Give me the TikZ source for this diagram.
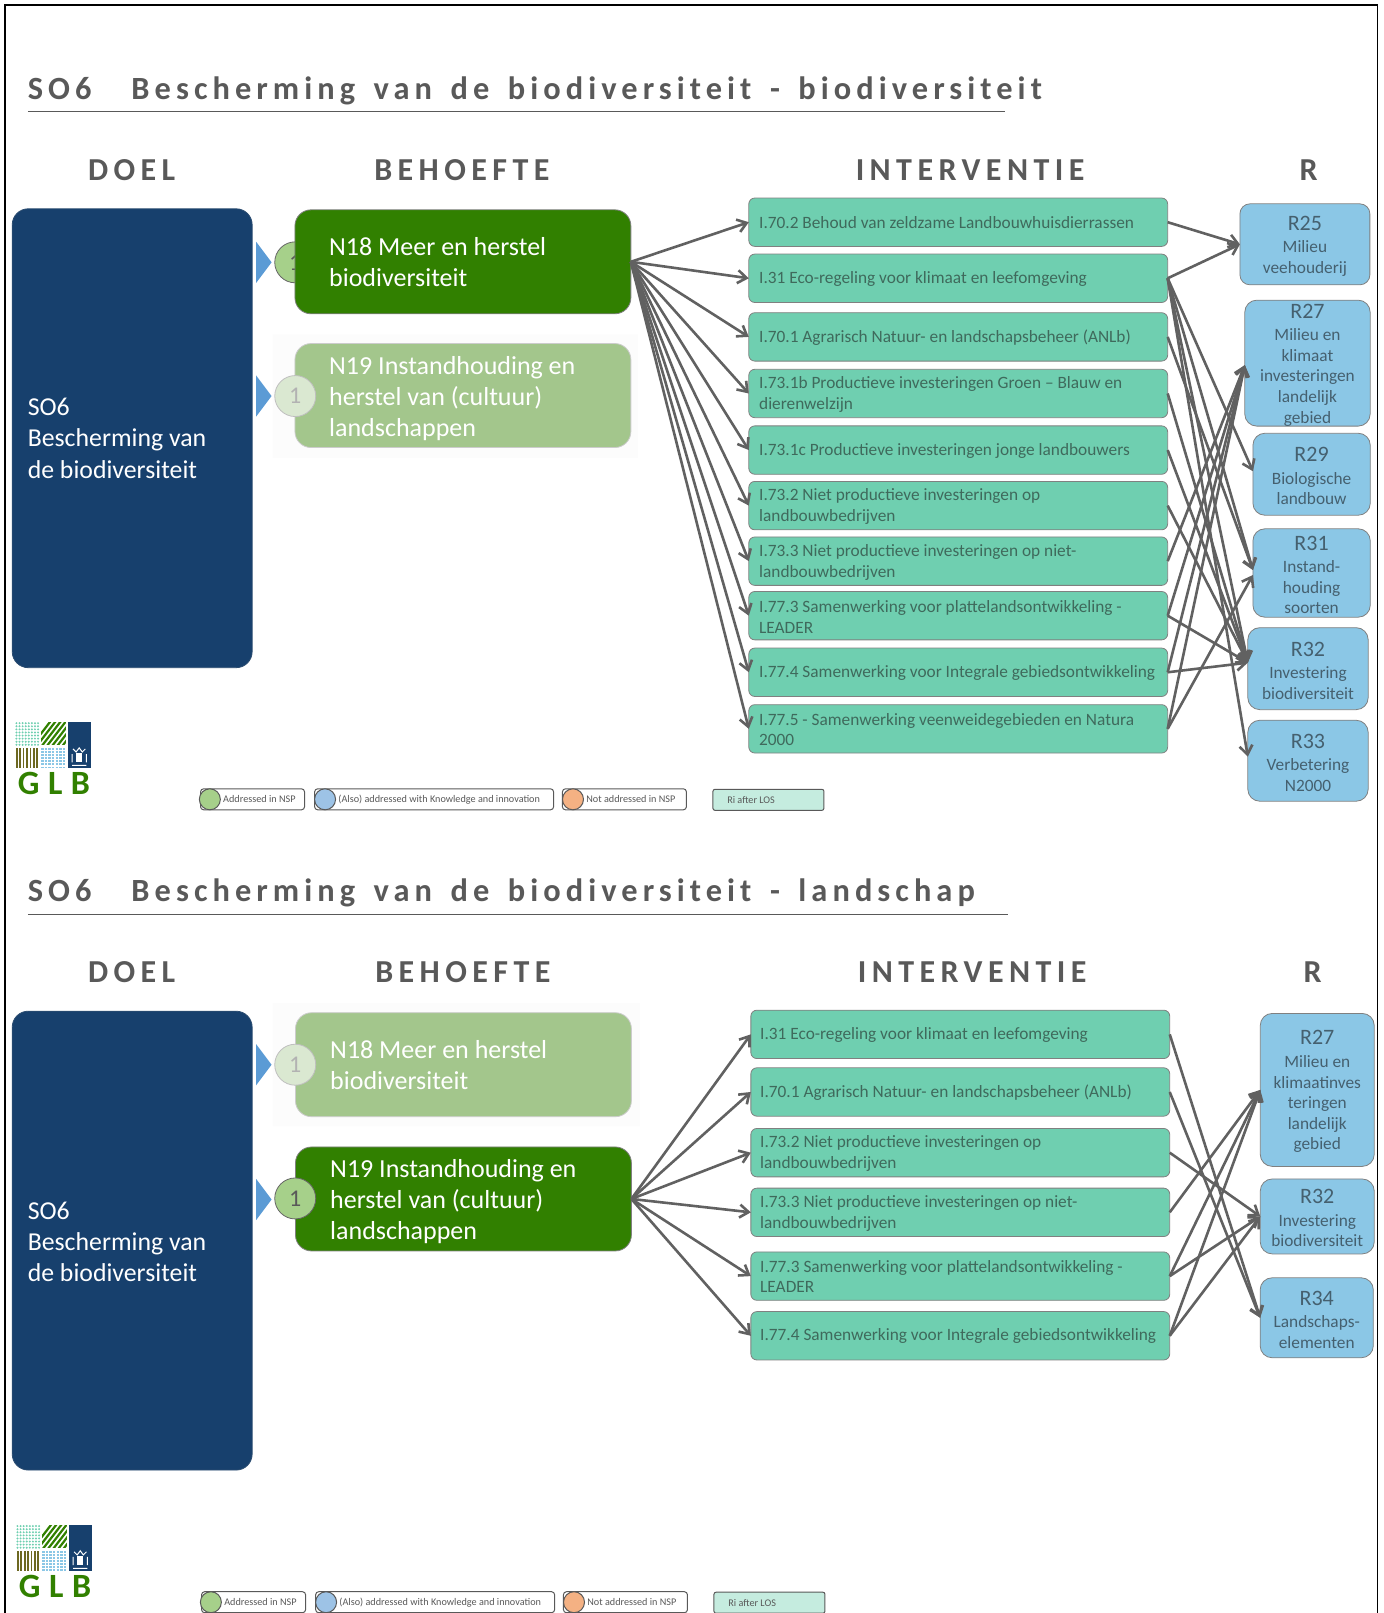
\documentclass[tikz,border=0pt]{standalone}
\usepackage{fontspec}
\setmainfont{Carlito}
\newfontfamily\titlefont[LetterSpace=15.6,WordSpace=1.5]{Carlito}
\newfontfamily\headfont[LetterSpace=17]{Carlito}
\newfontfamily\logofont[LetterSpace=25]{Carlito}
\usetikzlibrary{arrows.meta}
\definecolor{textgrey}{HTML}{595959}
\definecolor{doelblue}{HTML}{17406D}
\definecolor{needgreen}{HTML}{318000}
\definecolor{fadegreen}{HTML}{A3C68C}
\definecolor{intteal}{HTML}{6FCFB0}
\definecolor{inttext}{HTML}{3F6A5C}
\definecolor{resblue}{HTML}{8BC7E6}
\definecolor{restext}{HTML}{45606F}
\definecolor{tipblue}{HTML}{5B9BD5}
\definecolor{dotgreen}{HTML}{A6D08A}
\definecolor{dotblue}{HTML}{9DC3E6}
\definecolor{dotorange}{HTML}{F4B183}
\newcommand\rhead[1]{{\fontsize{11}{12}\selectfont\rule{0pt}{9pt}#1}\\[1pt]}
\begin{document}
\begin{tikzpicture}[
    x = 0.5145pt, y = -0.5145pt,
    every node/.style = {inner sep = 0pt, outer sep = 0pt},
    titletext/.style = {anchor = west, font = \titlefont\bfseries\fontsize{16.2}{18}\selectfont, text = textgrey},
    headtext/.style = {font = \headfont\bfseries\fontsize{16}{18}\selectfont, text = textgrey},
    doelbox/.style = {draw = doelblue!80!gray, fill = doelblue, rounded corners = 8pt, minimum width = 120pt, minimum height = 229.5pt},
    doeltext/.style = {anchor = west, align = left, text = white, font = \fontsize{12.9}{15.6}\selectfont},
    needbox/.style = {draw = gray, fill = needgreen, rounded corners = 8pt, minimum width = 168pt, minimum height = 52pt},
    fadebox/.style = {draw = gray!40, fill = fadegreen, rounded corners = 8pt, minimum width = 168pt, minimum height = 52pt},
    needtext/.style = {anchor = west, align = left, text = white, font = \fontsize{13}{15.5}\selectfont},
    intbox/.style = {draw = gray, fill = intteal, rounded corners = 3pt, minimum width = 209.5pt, minimum height = 24.2pt},
    inttextn/.style = {anchor = west, align = left, text = inttext, font = \fontsize{8.65}{10.3}\selectfont},
    resbox/.style = {draw = gray, fill = resblue, rounded corners = 6pt, align = center, text = restext, font = \fontsize{8.65}{10.3}\selectfont},
    numdark/.style = {circle, draw = gray!80!black, fill = dotgreen, minimum size = 20.5pt, text = textgrey, font = \fontsize{12}{14}\selectfont},
    numfade/.style = {circle, draw = gray!50, fill = fadegreen!40, minimum size = 20.5pt, text = gray!60, font = \fontsize{12}{14}\selectfont},
    pill/.style = {draw = textgrey, fill = white, rounded corners = 1.5pt, minimum height = 10.5pt, line width = 0.5pt},
    pilldot/.style = {circle, draw = textgrey, minimum size = 10.5pt, line width = 0.5pt},
    pilltext/.style = {anchor = west, text = textgrey, font = \fontsize{5.1}{6}\selectfont},
    conn/.style = {draw = textgrey!95!white, line width = 1.3pt, -{Straight Barb[length = 4.5pt, width = 6.5pt]}}]

\useasboundingbox (0,0) rectangle (1345,1568);
\draw[line width = 0.7pt] (5,1568) -- (5,5) -- (1339,5) -- (1339,1568);

\path (27,88) node[titletext](titletop) {SO6\hspace{20pt}Bescherming van de biodiversiteit - biodiversiteit}
	  (27,868) node[titletext](titlebot) {SO6\hspace{20pt}Bescherming van de biodiversiteit - landschap};
\draw[textgrey, line width = 0.6pt] (27,108) -- (977,108)
	  (27,889) -- (980,889);

\path (128,165) node[headtext](doeltop) {DOEL}
	  (449,165) node[headtext](behtop) {BEHOEFTE}
	  (943,165) node[headtext](inttop) {INTERVENTIE}
	  (1272,165) node[headtext](rtop) {R}
	  (128,945) node[headtext](doelbot) {DOEL}
	  (450,945) node[headtext](behbot) {BEHOEFTE}
	  (945,945) node[headtext](intbot) {INTERVENTIE}
	  (1276,945) node[headtext](rbot) {R};

\path (128.5,426) node[doelbox](doeltopbox) {}
	  (128.5,1206) node[doelbox](doelbotbox) {}
	  (27,426) node[doeltext](doeltoptext) {SO6\\Bescherming van\\de biodiversiteit}
	  (27,1207) node[doeltext](doelbottext) {SO6\\Bescherming van\\de biodiversiteit};

\fill[black!1] (265,325) rectangle (620,445) (265,975) rectangle (622,1095);

\foreach \ypos in {255,385,1035,1166}
	\fill[tipblue] (249,\ypos-20) -- (264,\ypos) -- (249,\ypos+20) -- cycle;

\path (287,255) node[numdark](numa) {1}
	  (450,254.5) node[needbox](needa) {}
	  (450,384.5) node[fadebox](needb) {}
	  (287,385) node[numfade](numb) {1}
	  (450.5,1035) node[fadebox](needc) {}
	  (287,1035) node[numfade](numc) {1}
	  (450.5,1165.5) node[needbox](needd) {}
	  (287,1165) node[numdark](numd) {1}
	  (320,255) node[needtext](needatext) {N18 Meer en herstel\\biodiversiteit}
	  (320,387) node[needtext](needbtext) {N19 Instandhouding en\\herstel van (cultuur)\\landschappen}
	  (321,1035) node[needtext](needctext) {N18 Meer en herstel\\biodiversiteit}
	  (321,1168) node[needtext](needdtext) {N19 Instandhouding en\\herstel van (cultuur)\\landschappen};

\path (931.5,216) node[intbox](ia) {}
	  (931.5,270.5) node[intbox](ib) {}
	  (931.5,327.5) node[intbox](ic) {}
	  (931.5,382.5) node[intbox](id) {}
	  (931.5,437.5) node[intbox](ie) {}
	  (931.5,491.5) node[intbox](if) {}
	  (931.5,545.5) node[intbox](ig) {}
	  (931.5,598.5) node[intbox](ih) {}
	  (931.5,653.5) node[intbox](ii) {}
	  (931.5,708.5) node[intbox](ij) {}
	  (738,216.5) node[inttextn](iat) {I.70.2 Behoud van zeldzame Landbouwhuisdierrassen}
	  (738,271.5) node[inttextn](ibt) {I.31 Eco-regeling voor klimaat en leefomgeving}
	  (738,328.5) node[inttextn](ict) {I.70.1 Agrarisch Natuur- en landschapsbeheer (ANLb)}
	  (738,383.5) node[inttextn](idt) {I.73.1b Productieve investeringen Groen -- Blauw en\\dierenwelzijn}
	  (738,438.5) node[inttextn](iet) {I.73.1c Productieve investeringen jonge landbouwers}
	  (738,492.5) node[inttextn](ift) {I.73.2 Niet productieve investeringen op\\landbouwbedrijven}
	  (738,546.5) node[inttextn](igt) {I.73.3 Niet productieve investeringen op niet-\\landbouwbedrijven}
	  (738,599.5) node[inttextn](iht) {I.77.3 Samenwerking voor plattelandsontwikkeling -\\LEADER}
	  (738,654.5) node[inttextn](iit) {I.77.4 Samenwerking voor Integrale gebiedsontwikkeling}
	  (738,709) node[inttextn](ijt) {I.77.5 - Samenwerking veenweidegebieden en Natura\\2000};

\path (1268.5,237.5) node[resbox, minimum width = 65pt, minimum height = 40.5pt, rounded corners = 5pt](ra) {\rhead{R25}Milieu\\veehouderij}
	  (1271,353) node[resbox, minimum width = 62.7pt, minimum height = 62.5pt](rb) {\rhead{R27}Milieu en\\klimaat\\investeringen\\landelijk\\gebied}
	  (1275,461) node[resbox, minimum width = 58.7pt, minimum height = 41pt](rc) {\rhead{R29}Biologische\\landbouw}
	  (1275,557) node[resbox, minimum width = 58.7pt, minimum height = 44.2pt](rd) {\rhead{R31}Instand-\\houding\\soorten}
	  (1271.5,650) node[resbox, minimum width = 60.2pt, minimum height = 41pt](re) {\rhead{R32}Investering\\biodiversiteit}
	  (1271.5,739.5) node[resbox, minimum width = 60.2pt, minimum height = 40.5pt](rf) {\rhead{R33}Verbetering\\N2000};

\path (933.5,1005.5) node[intbox](ja) {}
	  (933.5,1061.5) node[intbox](jb) {}
	  (933.5,1120.5) node[intbox](jc) {}
	  (933.5,1178.5) node[intbox](jd) {}
	  (933.5,1240.5) node[intbox](je) {}
	  (933.5,1298.5) node[intbox](jf) {}
	  (739,1006.5) node[inttextn](jat) {I.31 Eco-regeling voor klimaat en leefomgeving}
	  (739,1062.5) node[inttextn](jbt) {I.70.1 Agrarisch Natuur- en landschapsbeheer (ANLb)}
	  (739,1121.5) node[inttextn](jct) {I.73.2 Niet productieve investeringen op\\landbouwbedrijven}
	  (739,1179.5) node[inttextn](jdt) {I.73.3 Niet productieve investeringen op niet-\\landbouwbedrijven}
	  (739,1241) node[inttextn](jet) {I.77.3 Samenwerking voor plattelandsontwikkeling -\\LEADER}
	  (739,1299) node[inttextn](jft) {I.77.4 Samenwerking voor Integrale gebiedsontwikkeling};

\path (1280.5,1059.5) node[resbox, minimum width = 57pt, minimum height = 76.5pt](sa) {\rhead{R27}Milieu en\\klimaatinves\\teringen\\landelijk\\gebied}
	  (1280.5,1182.5) node[resbox, minimum width = 57pt, minimum height = 37.5pt](sb) {\rhead{R32}Investering\\biodiversiteit}
	  (1280,1281) node[resbox, minimum width = 56.6pt, minimum height = 40pt](sc) {\rhead{R34}Landschaps-\\elementen};

\foreach \target in {ia,ib,ic,id,ie,if,ig,ih,ii,ij}
	\draw[conn] (needa.east) to (\target.west);
\foreach \target in {ja,jb,jc,jd,je,jf}
	\draw[conn] (needd.east) to (\target.west);

\draw[conn] (ia.east) to (ra.west);
\draw[conn] (ib.east) to (ra.west);
\draw[conn] (ib.east) to ([yshift=1.5pt]rc.west);
\draw[conn] (ib.east) to ([yshift=1.5pt]rd.west);
\draw[conn] (ib.east) to ([yshift=3pt]re.west);
\draw[conn] (ib.east) to ([yshift=2pt]rf.west);
\draw[conn] (ic.east) to ([yshift=1.5pt]rd.west);
\draw[conn] (id.east) to ([yshift=3pt]re.west);
\draw[conn] (ie.east) to ([yshift=3pt]re.west);
\draw[conn] (if.east) to ([yshift=3pt]re.west);
\draw[conn] (ig.east) to ([yshift=-1pt]rb.west);
\draw[conn] (ih.east) to ([yshift=-1pt]rb.west);
\draw[conn] (ih.east) to ([yshift=3pt]re.west);
\draw[conn] (ii.east) to ([yshift=-1pt]rb.west);
\draw[conn] (ii.east) to ([yshift=3pt]re.west);
\draw[conn] (ij.east) to ([yshift=-1pt]rb.west);
\draw[conn] (ij.east) to ([yshift=-1pt]rd.west);

\draw[conn] (ja.east) to (sc.west);
\draw[conn] (jb.east) to (sc.west);
\draw[conn] (jc.east) to (sb.west);
\draw[conn] (jd.east) to (sa.west);
\draw[conn] (je.east) to (sa.west);
\draw[conn] (je.east) to (sb.west);
\draw[conn] (jf.east) to (sa.west);
\draw[conn] (jf.east) to (sb.west);

\foreach \dx/\dy/\tag in {0/0/t,1/780.5/b} {
	\begin{scope}[shift = {(\dx,\dy)}]
	\foreach \col in {0,...,7}
		\foreach \row in {0,...,7}
			\fill[intteal] (16+3*\col,703+3*\row) circle (0.55pt);
	\begin{scope}
		\clip (40,702) rectangle (64,724);
		\foreach \off in {0,5,...,50}
			\draw[needgreen, line width = 1.1pt] (30+\off,726) -- (50+\off,700);
	\end{scope}
	\fill[doelblue] (66,702) rectangle (88,747);
	\foreach \col in {0,...,6}
		\fill[olive!70!black] (15.5+3.3*\col,727) rectangle +(1.7,20);
	\foreach \row in {0,...,6}
		\draw[resblue, line width = 0.9pt, dash pattern = on 1.2pt off 0.6pt] (40,728+3*\row) -- (64,728+3*\row);
	\fill[white] (74,732) rectangle (80,741);
	\draw[white, line width = 0.5pt] (71,728) -- (74,731) -- (77,727) -- (80,731) -- (83,728)
		  (70,733) -- (70,741) (84,733) -- (84,741) (70,744) -- (84,744);
	\path (52.5,762) node[text = needgreen, font = \logofont\bfseries\fontsize{17}{18}\selectfont](glb\tag) {GLB};
	\path (245.5,777) node[pill, minimum width = 52pt](pa\tag) {}
		  (422,777) node[pill, minimum width = 119.5pt](pb\tag) {}
		  (607,777) node[pill, minimum width = 62pt](pc\tag) {}
		  (747,777.5) node[pill, fill = intteal!40, minimum width = 55.5pt, rounded corners = 1pt](pd\tag) {}
		  (204,777) node[pilldot, fill = dotgreen](da\tag) {}
		  (316,777) node[pilldot, fill = dotblue](db\tag) {}
		  (557,777) node[pilldot, fill = dotorange](dc\tag) {}
		  (217,777) node[pilltext](ta\tag) {Addressed in NSP}
		  (329,777) node[pilltext](tb\tag) {(Also) addressed with Knowledge and innovation}
		  (570,777) node[pilltext](tc\tag) {Not addressed in NSP}
		  (707,777.5) node[pilltext](td\tag) {Ri after LOS};
	\end{scope}
}
\end{tikzpicture}
\end{document}
